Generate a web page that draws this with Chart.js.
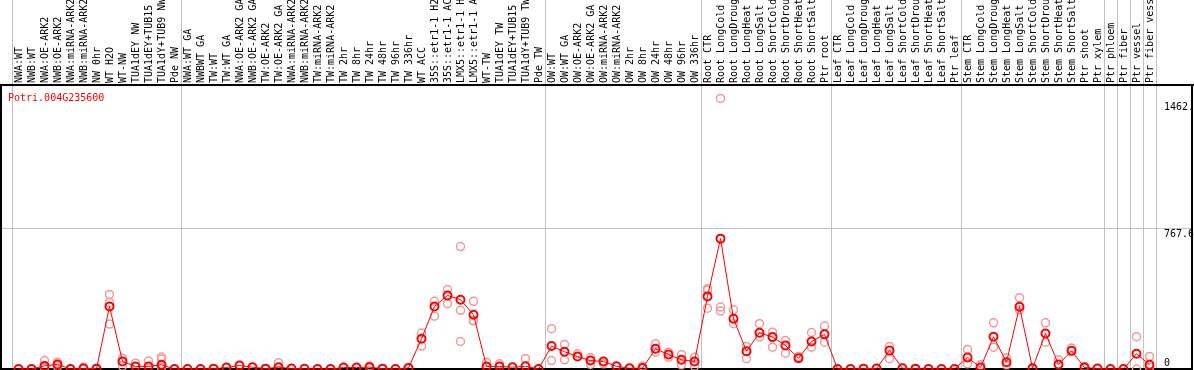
<!DOCTYPE html>
<html>
<head>
<meta charset="utf-8">
<title>Potri.004G235600</title>
<script src="https://cdn.jsdelivr.net/npm/chart.js@4.4.1/dist/chart.umd.min.js"></script>
<style>
  html, body { margin: 0; padding: 0; background: #fff; overflow: hidden; }
  canvas { display: block; }
</style>
</head>
<body>
<canvas id="chart" width="1194" height="370"></canvas>
<script>
var GENE_ID = 'Potri.004G235600';

var SAMPLE_LABELS = [
  'NWA:WT', 'NWB:WT', 'NWA:OE-ARK2', 'NWB:OE-ARK2', 'NWA:miRNA-ARK2', 'NWB:miRNA-ARK2',
  'NW 0hr', 'WT H2O', 'WT-NW', 'TUA1dEY NW', 'TUA1dEY+TUB15 NW', 'TUA1dY+TUB9 NW', 'Pde NW',
  'NWA:WT GA', 'NWBWT GA', 'TW:WT', 'TW:WT GA', 'NWA:OE-ARK2 GA', 'NWB:OE-ARK2 GA',
  'TW:OE-ARK2', 'TW:OE-ARK2 GA', 'NWA:miRNA-ARK2 GA', 'NWB:miRNA-ARK2 GA', 'TW:miRNA-ARK2',
  'TW:miRNA-ARK2 GA', 'TW 2hr', 'TW 8hr', 'TW 24hr', 'TW 48hr', 'TW 96hr', 'TW 336hr',
  'WT ACC', '35S::etr1-1 H2O', '35S::etr1-1 ACC', 'LMX5::etr1-1 H2O', 'LMX5::etr1-1 ACC',
  'WT-TW', 'TUA1dEY TW', 'TUA1dEY+TUB15 TW', 'TUA1dY+TUB9 TW', 'Pde TW',
  'OW:WT', 'OW:WT GA', 'OW:OE-ARK2', 'OW:OE-ARK2 GA', 'OW:miRNA-ARK2', 'OW:miRNA-ARK2 GA',
  'OW 2hr', 'OW 8hr', 'OW 24hr', 'OW 48hr', 'OW 96hr', 'OW 336hr',
  'Root CTR', 'Root LongCold', 'Root LongDrought', 'Root LongHeat', 'Root LongSalt',
  'Root ShortCold', 'Root ShortDrought', 'Root ShortHeat', 'Root ShortSalt', 'Ptr root',
  'Leaf CTR', 'Leaf LongCold', 'Leaf LongDrought', 'Leaf LongHeat', 'Leaf LongSalt',
  'Leaf ShortCold', 'Leaf ShortDrought', 'Leaf ShortHeat', 'Leaf ShortSalt', 'Ptr leaf',
  'Stem CTR', 'Stem LongCold', 'Stem LongDrought', 'Stem LongHeat', 'Stem LongSalt',
  'Stem ShortCold', 'Stem ShortDrought', 'Stem ShortHeat', 'Stem ShortSalt', 'Ptr shoot',
  'Ptr xylem', 'Ptr phloem', 'Ptr fiber', 'Ptr vessel', 'Ptr fiber vessel'
];

// index of the first sample of each group (a grey separator is drawn before it)
var GROUP_STARTS = [0, 13, 41, 53, 63, 73, 84, 85, 86, 87];

var MEAN_VALUES = [
  0, 0, 17, 25, 0, 3, 2, 341, 41, 14, 14, 23, 0,
  0, 0, 2, 8, 19, 10, 2, 10, 3, 1, 0, 0, 8, 8, 10, 2, 0, 6,
  165, 341, 401, 378, 296, 14, 14, 10, 15, 0,
  125, 94, 68, 46, 41, 15, 4, 5, 110, 79, 50, 41,
  396, 711, 274, 97, 198, 174, 128, 59, 150, 189,
  0, 0, 2, 3, 101, 4, 2, 0, 0, 0,
  63, 8, 176, 37, 340, 4, 194, 25, 99, 8, 3,
  0, 0, 83, 23
];

var REP1_VALUES = [
  null, null, 46, 37, null, 10, null, 407, 59, 32, 43, 65, null,
  null, null, null, null, null, null, null, 34, null, null, null, null, null, null, 17, null, null, null,
  196, 369, 433, 668, 369, 37, 28, null, 56, null,
  220, 134, 83, 61, 28, null, null, 15, 138, 92, 78, 64,
  438, 1476, 323, 123, 247, 201, 156, 68, 199, 234,
  null, null, null, null, 123, null, null, null, null, null,
  107, 23, 252, 61, 389, null, 252, 50, 114, 14, null,
  null, null, 176, 68
];

var REP2_VALUES = [
  null, null, 8, 14, null, null, null, 363, 15, null, null, 54, null,
  null, null, null, null, null, null, null, null, null, null, null, null, null, null, null, null, null, null,
  125, 288, 356, 320, 265, null, null, null, null, null,
  46, 50, null, 25, null, null, null, null, 92, 64, 23, 15,
  429, 338, 247, 56, 174, 119, 86, null, 119, 146,
  null, null, null, null, 56, null, null, null, null, null,
  28, null, 119, 23, 323, null, 146, null, null, null, null,
  null, null, 0, 10
];

var REP3_VALUES = [
  null, null, null, null, null, null, null, 245, null, null, null, 10, null,
  null, null, null, null, null, null, null, null, null, null, null, null, null, null, null, null, null, null,
  null, null, null, 150, 262, null, null, null, null, null,
  null, null, null, null, null, null, null, null, null, null, null, null,
  332, 316, null, null, null, null, null, null, null, null,
  null, null, null, null, null, null, null, null, null, null,
  null, null, null, null, null, null, null, null, null, null, null,
  null, null, null, null
];

var Y_MAX = 1549;
var Y_TICK_VALUES = [0, 767.6, 1462];
var Y_TICK_LABELS = ['0', '767.6', '1462.'];

(function () {
  'use strict';

  var FONT = '10px "DejaVu Sans Mono", monospace';
  var GRID = '#c0c0c0';

  function replicateSet(values) {
    return {
      data: values,
      showLine: false,
      pointRadius: 4,
      pointBorderWidth: 1.5,
      pointBorderColor: '#f09a9a',
      pointBackgroundColor: 'rgba(0,0,0,0)',
      clip: false,
      order: 2
    };
  }

  var frame = {
    id: 'efpFrame',
    beforeDatasetsDraw: function (chart) {
      var ctx = chart.ctx;
      var y = chart.scales.y;
      var area = chart.chartArea;
      var W = chart.width;
      ctx.save();
      // horizontal grid line at the middle tick
      ctx.strokeStyle = GRID;
      ctx.lineWidth = 1;
      ctx.beginPath();
      var gy = Math.round(y.getPixelForValue(Y_TICK_VALUES[1])) + 0.5;
      ctx.moveTo(1, gy);
      ctx.lineTo(W - 2, gy);
      ctx.stroke();

      // black frame
      ctx.strokeStyle = '#000';
      ctx.lineWidth = 2;
      ctx.beginPath();
      ctx.moveTo(0, area.top);
      ctx.lineTo(W, area.top);
      ctx.moveTo(1, area.top);
      ctx.lineTo(1, chart.height);
      ctx.moveTo(W - 2, area.top);
      ctx.lineTo(W - 2, chart.height);
      ctx.moveTo(0, area.bottom);
      ctx.lineTo(W - 2, area.bottom);
      ctx.stroke();
      ctx.restore();
    },
    afterDraw: function (chart) {
      var ctx = chart.ctx;
      var y = chart.scales.y;
      var area = chart.chartArea;
      ctx.save();
      ctx.font = FONT;
      ctx.textAlign = 'left';
      ctx.fillStyle = '#ff0000';
      ctx.textBaseline = 'middle';
      ctx.fillText(GENE_ID, 8, area.top + 13);

      ctx.fillStyle = '#000';
      Y_TICK_VALUES.forEach(function (v, i) {
        var py = y.getPixelForValue(v);
        if (v === 0) {
          ctx.textBaseline = 'bottom';
          ctx.fillText(Y_TICK_LABELS[i], 1164, py - 1);
        } else {
          ctx.textBaseline = 'top';
          ctx.fillText(Y_TICK_LABELS[i], 1164, py + 1);
        }
      });
      ctx.restore();
    }
  };

  new Chart(document.getElementById('chart'), {
    type: 'line',
    data: {
      labels: SAMPLE_LABELS,
      datasets: [
        {
          data: MEAN_VALUES,
          borderColor: '#ff0000',
          borderWidth: 1,
          pointRadius: 4,
          pointBorderWidth: 2,
          pointBorderColor: '#ff0000',
          pointBackgroundColor: 'rgba(0,0,0,0)',
          tension: 0,
          clip: false,
          order: 1
        },
        replicateSet(REP1_VALUES),
        replicateSet(REP2_VALUES),
        replicateSet(REP3_VALUES)
      ]
    },
    options: {
      responsive: false,
      animation: false,
      devicePixelRatio: 1,
      events: [],
      layout: { autoPadding: false, padding: { left: 12, right: 38, top: 0, bottom: 1 } },
      plugins: {
        legend: { display: false },
        tooltip: { enabled: false },
        title: { display: false }
      },
      scales: {
        x: {
          type: 'category',
          position: 'top',
          offset: true,
          grid: {
            offset: true,
            drawTicks: true,
            tickLength: 85,
            lineWidth: 1,
            color: function (c) {
              if (c.index === undefined) return GRID;
              return GROUP_STARTS.indexOf(c.index) >= 0 ? GRID : 'rgba(0,0,0,0)';
            }
          },
          border: { display: false },
          ticks: {
            autoSkip: false,
            minRotation: 90,
            maxRotation: 90,
            padding: -83,
            labelOffset: 13,
            color: '#000',
            font: { family: '"DejaVu Sans Mono", monospace', size: 10 }
          },
          afterFit: function (scale) {
            scale.height = 85;
          }
        },
        y: {
          display: false,
          min: 0,
          max: Y_MAX
        }
      }
    },
    plugins: [frame]
  });
})();
</script>
</body>
</html>
